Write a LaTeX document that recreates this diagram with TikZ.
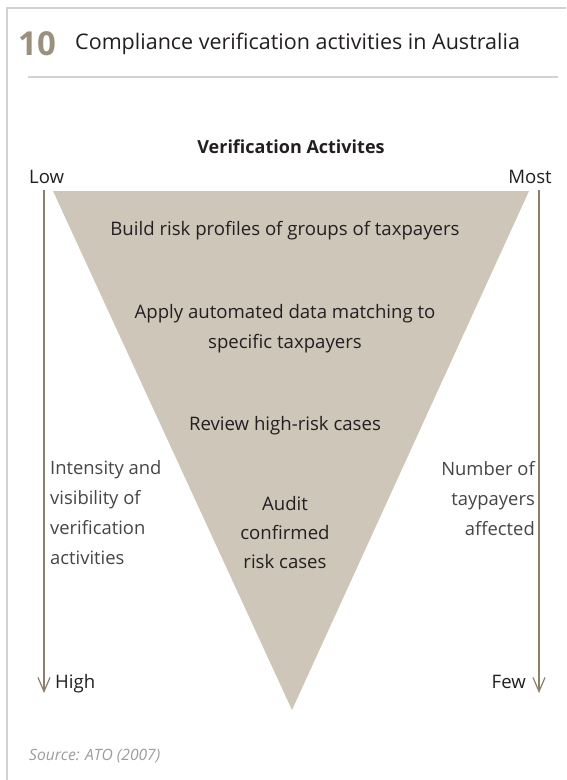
\documentclass[tikz,border=0pt]{standalone}
\usepackage{fontspec}
\setmainfont{Open Sans}
\usetikzlibrary{arrows.meta}

\definecolor{wedge}{HTML}{CEC6B9}
\definecolor{axisbrown}{HTML}{8C7F6E}
\definecolor{numtan}{HTML}{9B8F7E}
\definecolor{framegray}{HTML}{D2D2D2}
\definecolor{inkdark}{HTML}{231F20}
\definecolor{labelgray}{HTML}{474545}
\definecolor{sourcegray}{HTML}{9D9D9D}

\begin{document}
\begin{tikzpicture}[x=1pt, y=-1pt,
  txt/.style={inner sep=0pt, text=inkdark, font=\fontsize{18.6}{29.5}\selectfont},
  sidelabel/.style={inner sep=0pt, text=labelgray, font=\fontsize{18.4}{29.7}\selectfont},
  axis/.style={draw=axisbrown, line width=1.2pt,
    -{Straight Barb[length=14pt, width=12pt, line width=1.2pt]}},
  rule/.style={draw=framegray, line width=1.8pt}]

\useasboundingbox (0,0) rectangle (566,780);
\fill[white] (0,0) rectangle (566,780);

% panel frame and title rule
\draw[rule] (566,8) -- (7,8) -- (7,780);
\draw[rule] (28,77) -- (558,77);

% title
\node[anchor=base west, inner sep=0pt, text=numtan,
      font=\fontsize{33}{33}\selectfont\bfseries] (num) at (18,55) {10};
\node[anchor=base west, inner sep=0pt, text=inkdark,
      font=\fontsize{21.5}{21.5}\selectfont] (title) at (75,49)
      {Compliance verification activities in Australia};

% heading
\node[anchor=base, inner sep=0pt, text=inkdark,
      font=\fontsize{18}{18}\selectfont\bfseries] (heading) at (291,153)
      {Verification Activites};

% inverted wedge
\fill[wedge] (53,191) -- (529,191) -- (292,710) -- cycle;

% activity labels inside the wedge (base anchor = last line)
\node[txt, anchor=base, align=center] (build) at (285,235)
  {Build risk profiles of groups of taxpayers};
\node[txt, anchor=base, align=center] (apply) at (285,348)
  {Apply automated data matching to\\specific taxpayers};
\node[txt, anchor=base, align=center] (review) at (285,430)
  {Review high-risk cases};
\node[txt, anchor=base, align=center, font=\fontsize{18.6}{29}\selectfont] (audit) at (285,568)
  {Audit\\confirmed\\risk cases};

% axis end labels
\node[txt, anchor=base west] (low) at (29,183) {Low};
\node[txt, anchor=base east] (most) at (552,183) {Most};
\node[txt, anchor=base west] (high) at (55,688) {High};
\node[txt, anchor=base east] (few) at (526,688) {Few};

% axes
\coordinate (ltop) at (44,190);
\coordinate (lbot) at (44,693);
\coordinate (rtop) at (539,190);
\coordinate (rbot) at (539,693);
\draw[axis] (ltop) -- (lbot);
\draw[axis] (rtop) -- (rbot);

% axis descriptions (base anchor = last line)
\node[sidelabel, anchor=base west, align=left] (intensity) at (50,564)
  {Intensity and\\visibility of\\verification\\activities};
\node[sidelabel, anchor=base east, align=right] (number) at (535,535)
  {Number of\\taypayers\\affected};

% source note
\node[anchor=base west, inner sep=0pt, text=sourcegray,
      font=\fontsize{15.6}{15.6}\selectfont\itshape] (source) at (29,760)
  {Source: ATO (2007)};
\end{tikzpicture}
\end{document}
